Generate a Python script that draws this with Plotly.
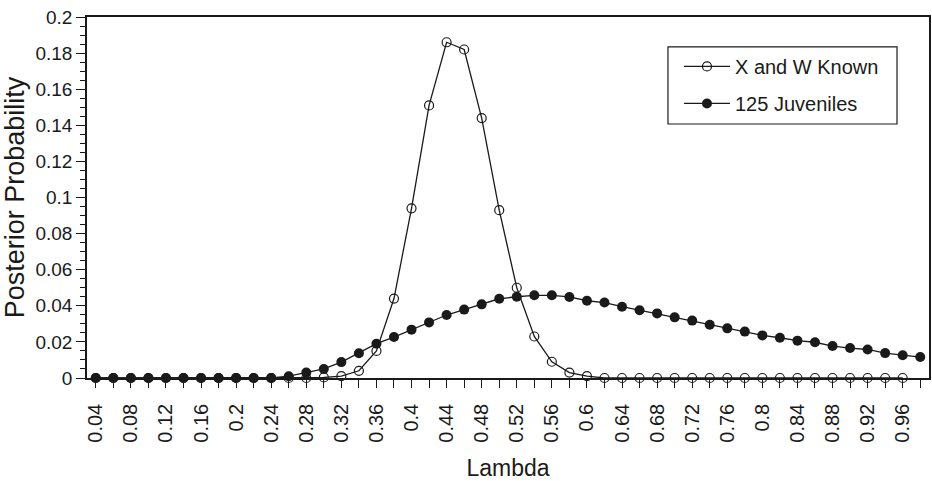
import plotly.graph_objects as go

lam = [round(0.04 + 0.02 * i, 2) for i in range(48)]

known = [0]*13 + [0.0003, 0.001, 0.004, 0.015, 0.044, 0.094, 0.151, 0.186, 0.182,
                  0.144, 0.093, 0.050, 0.023, 0.009, 0.003, 0.001] + [0]*18

juveniles = [0]*11 + [0.001, 0.003, 0.005, 0.0088, 0.0137, 0.019, 0.0227, 0.0268,
                      0.0308, 0.0349, 0.0379, 0.0408, 0.0439, 0.045, 0.0458, 0.0458,
                      0.0449, 0.0428, 0.0418, 0.0395, 0.0375, 0.0358, 0.0336, 0.0318,
                      0.0295, 0.0275, 0.0257, 0.0236, 0.0223, 0.0207, 0.0198, 0.0177,
                      0.0166, 0.0158, 0.0138, 0.0126, 0.0116]

y_ticks = [0, 0.02, 0.04, 0.06, 0.08, 0.1, 0.12, 0.14, 0.16, 0.18, 0.2]
y_labels = ["0", "0.02", "0.04", "0.06", "0.08", "0.1", "0.12", "0.14", "0.16", "0.18", "0.2"]
x_ticks = [round(0.04 + 0.04 * i, 2) for i in range(24)]
x_labels = [("%g" % v) for v in x_ticks]

ink = "#1a1a1a"

fig = go.Figure()
fig.add_trace(go.Scatter(
    x=lam, y=known, name="X and W Known", mode="lines+markers", legendgroup="a",
    line=dict(color=ink, width=1.3),
    marker=dict(symbol="circle-open", size=9, color=ink, line=dict(width=1.2)),
    cliponaxis=False))
fig.add_trace(go.Scatter(
    x=lam, y=juveniles, name="125 Juveniles", mode="lines+markers", legendgroup="b",
    line=dict(color=ink, width=1.3),
    marker=dict(symbol="circle", size=10, color=ink),
    cliponaxis=False))

# legend frame
fig.add_shape(type="rect", xref="paper", yref="paper",
              x0=0.690, x1=0.962, y0=0.7036, y1=0.917,
              line=dict(color=ink, width=1.2), fillcolor="rgba(0,0,0,0)", layer="above")

font = "Liberation Sans, Arial, sans-serif"
fig.update_layout(
    width=932, height=481,
    margin=dict(l=87, r=3, t=17, b=103),
    paper_bgcolor="white", plot_bgcolor="white",
    font=dict(family=font, size=19, color=ink),
    showlegend=True,
    legend=dict(x=0.690, y=0.917, xanchor="left", yanchor="top",
                borderwidth=0, bgcolor="rgba(0,0,0,0)",
                font=dict(size=20), tracegroupgap=8, itemwidth=46, indentation=11),
    xaxis=dict(range=[0.03, 0.99], tickmode="array", tickvals=x_ticks, ticktext=x_labels,
               tickangle=-90, ticks="outside", ticklen=8, tickcolor=ink,
               showline=True, linecolor=ink, linewidth=1.5, mirror=True,
               showgrid=False, zeroline=False, automargin=False, ticklabelstandoff=8,
               minor=dict(dtick=0.02, tick0=0.04, ticks="outside", ticklen=8, tickcolor=ink, showgrid=False),
               title=dict(text="Lambda", font=dict(size=23), standoff=18),
               tickfont=dict(size=20)),
    yaxis=dict(range=[0, 0.2], tickmode="array", tickvals=y_ticks, ticktext=y_labels,
               ticks="outside", ticklen=9, tickcolor=ink,
               showline=True, linecolor=ink, linewidth=1.5, mirror=True,
               showgrid=False, zeroline=False, automargin=False,
               minor=dict(dtick=0.005, tick0=0, ticks="outside", ticklen=5, tickcolor=ink, showgrid=False),
               title=dict(text="Posterior Probability", font=dict(size=27), standoff=4),
               tickfont=dict(size=19)),
)
fig.write_html("out.html", post_script="document.body.style.margin='0';",
               config={"displayModeBar": False})
